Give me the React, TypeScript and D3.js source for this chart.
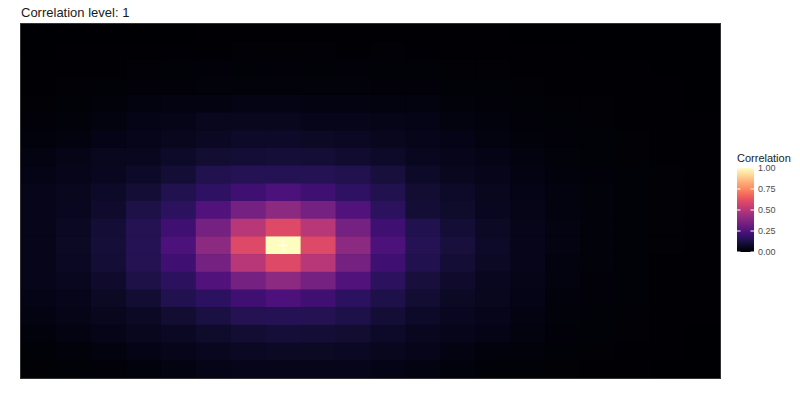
import React, { useEffect, useRef } from 'react';
import * as d3 from 'd3';

// correlation of every grid cell with the marked reference cell, rows listed top to bottom
const correlation: number[][] = [
  [0.002, 0.002, 0.003, 0.003, 0.003, 0.004, 0.004, 0.004, 0.004, 0.004, 0.004, 0.004, 0.004, 0.004, 0.003, 0.003, 0.003, 0.002, 0.002, 0.002],
  [0.003, 0.004, 0.004, 0.005, 0.006, 0.007, 0.008, 0.008, 0.008, 0.007, 0.008, 0.006, 0.005, 0.005, 0.004, 0.004, 0.003, 0.003, 0.003, 0.002],
  [0.004, 0.005, 0.006, 0.008, 0.012, 0.016, 0.014, 0.016, 0.014, 0.016, 0.014, 0.012, 0.01, 0.008, 0.006, 0.005, 0.004, 0.004, 0.003, 0.003],
  [0.006, 0.008, 0.012, 0.016, 0.016, 0.02, 0.02, 0.022, 0.02, 0.02, 0.018, 0.016, 0.014, 0.012, 0.008, 0.007, 0.006, 0.005, 0.004, 0.003],
  [0.01, 0.014, 0.02, 0.03, 0.032, 0.035, 0.036, 0.038, 0.035, 0.034, 0.03, 0.03, 0.02, 0.016, 0.012, 0.01, 0.008, 0.006, 0.004, 0.003],
  [0.018, 0.022, 0.03, 0.04, 0.045, 0.055, 0.058, 0.055, 0.05, 0.05, 0.045, 0.04, 0.03, 0.025, 0.016, 0.012, 0.01, 0.007, 0.005, 0.004],
  [0.025, 0.03, 0.04, 0.05, 0.055, 0.065, 0.075, 0.075, 0.07, 0.065, 0.058, 0.05, 0.04, 0.03, 0.022, 0.016, 0.012, 0.008, 0.006, 0.004],
  [0.035, 0.045, 0.055, 0.062, 0.075, 0.09, 0.1, 0.105, 0.1, 0.088, 0.075, 0.06, 0.05, 0.04, 0.03, 0.02, 0.015, 0.01, 0.007, 0.005],
  [0.04, 0.05, 0.06, 0.078, 0.1, 0.14, 0.15, 0.15, 0.15, 0.14, 0.11, 0.075, 0.058, 0.05, 0.035, 0.025, 0.018, 0.012, 0.008, 0.005],
  [0.05, 0.058, 0.075, 0.1, 0.14, 0.175, 0.21, 0.24, 0.21, 0.175, 0.14, 0.095, 0.075, 0.058, 0.04, 0.03, 0.02, 0.014, 0.01, 0.006],
  [0.05, 0.06, 0.085, 0.125, 0.165, 0.25, 0.34, 0.4, 0.34, 0.25, 0.165, 0.1, 0.08, 0.06, 0.045, 0.03, 0.02, 0.012, 0.008, 0.005],
  [0.05, 0.065, 0.1, 0.145, 0.21, 0.34, 0.5, 0.6, 0.5, 0.34, 0.21, 0.14, 0.1, 0.07, 0.05, 0.032, 0.02, 0.012, 0.008, 0.005],
  [0.05, 0.068, 0.105, 0.15, 0.24, 0.4, 0.6, 1.0, 0.6, 0.4, 0.24, 0.15, 0.11, 0.075, 0.05, 0.032, 0.02, 0.013, 0.008, 0.005],
  [0.05, 0.066, 0.1, 0.145, 0.21, 0.34, 0.5, 0.6, 0.5, 0.34, 0.21, 0.14, 0.1, 0.07, 0.05, 0.03, 0.02, 0.012, 0.007, 0.005],
  [0.05, 0.06, 0.085, 0.125, 0.165, 0.25, 0.34, 0.4, 0.34, 0.25, 0.165, 0.11, 0.085, 0.06, 0.045, 0.028, 0.018, 0.012, 0.007, 0.004],
  [0.042, 0.05, 0.07, 0.095, 0.14, 0.17, 0.21, 0.24, 0.21, 0.17, 0.13, 0.095, 0.07, 0.055, 0.04, 0.025, 0.016, 0.012, 0.006, 0.004],
  [0.035, 0.045, 0.055, 0.07, 0.09, 0.12, 0.145, 0.15, 0.145, 0.13, 0.1, 0.075, 0.06, 0.05, 0.035, 0.022, 0.014, 0.01, 0.006, 0.004],
  [0.025, 0.035, 0.045, 0.055, 0.065, 0.08, 0.095, 0.105, 0.1, 0.09, 0.075, 0.06, 0.05, 0.04, 0.028, 0.018, 0.012, 0.008, 0.005, 0.003],
  [0.015, 0.02, 0.03, 0.04, 0.05, 0.06, 0.065, 0.07, 0.068, 0.063, 0.055, 0.048, 0.035, 0.025, 0.02, 0.014, 0.01, 0.007, 0.004, 0.003],
  [0.01, 0.012, 0.018, 0.025, 0.035, 0.045, 0.05, 0.05, 0.05, 0.048, 0.04, 0.035, 0.025, 0.012, 0.012, 0.01, 0.007, 0.005, 0.003, 0.002],
];

const columns = d3.range(correlation[0].length);
const rows = d3.range(correlation.length);

// reference cell (column, row from top)
const refCell = { col: 7, row: 12 };

const legendTicks = [0, 0.25, 0.5, 0.75, 1];
const title = 'Correlation level: 1';

const Heatmap = () => {
  const svgRef = useRef<SVGSVGElement | null>(null);

  useEffect(() => {
    if (!svgRef.current) return;
    const svg = d3.select(svgRef.current);
    svg.selectAll('*').remove();

    const panel = { left: 21, top: 24, right: 720, bottom: 378 };

    const x = d3.scaleBand<number>().domain(columns).range([panel.left, panel.right]);
    const y = d3.scaleBand<number>().domain(rows).range([panel.top, panel.bottom]);
    const color = d3.scaleSequential(d3.interpolateMagma).domain([0, 1]);

    // title
    svg.append('text')
      .attr('x', panel.left)
      .attr('y', 17)
      .attr('font-family', 'Liberation Sans, Arial, sans-serif')
      .attr('font-size', 13)
      .attr('fill', '#1a1a1a')
      .text(title);

    svg.append('rect')
      .attr('x', panel.left)
      .attr('y', panel.top)
      .attr('width', panel.right - panel.left)
      .attr('height', panel.bottom - panel.top)
      .attr('fill', '#000004');

    const cells = rows.flatMap(r => columns.map(c => ({ r, c, v: correlation[r][c] })));

    svg.append('g')
      .selectAll('rect')
      .data(cells)
      .enter()
      .append('rect')
      .attr('x', d => x(d.c)!)
      .attr('y', d => y(d.r)!)
      .attr('width', x.bandwidth() + 0.5)
      .attr('height', y.bandwidth() + 0.5)
      .attr('fill', d => color(d.v));

    // panel border
    svg.append('rect')
      .attr('x', panel.left - 0.5)
      .attr('y', panel.top - 0.5)
      .attr('width', panel.right - panel.left + 1)
      .attr('height', panel.bottom - panel.top + 1)
      .attr('fill', 'none')
      .attr('stroke', '#333333')
      .attr('stroke-width', 1);

    // reference cross
    const cx = x(refCell.col)! + x.bandwidth() / 2;
    const cy = y(refCell.row)! + y.bandwidth() / 2;
    svg.append('path')
      .attr('d', `M${cx - 5.5},${cy}H${cx + 5.5}M${cx},${cy - 5.5}V${cy + 5.5}`)
      .attr('stroke', 'white')
      .attr('stroke-width', 1);

    // legend
    const legend = { x: 737, w: 17, top: 168, bottom: 252 };
    const ly = d3.scaleLinear().domain([0, 1]).range([legend.bottom, legend.top]);

    const grad = svg.append('defs')
      .append('linearGradient')
      .attr('id', 'magma-grad')
      .attr('x1', 0).attr('y1', 1).attr('x2', 0).attr('y2', 0);
    d3.range(0, 1.0001, 0.05).forEach(t => {
      grad.append('stop').attr('offset', t).attr('stop-color', color(t));
    });

    svg.append('text')
      .attr('x', legend.x)
      .attr('y', 162)
      .attr('font-family', 'Liberation Sans, Arial, sans-serif')
      .attr('font-size', 11)
      .attr('fill', '#1a1a1a')
      .text('Correlation');

    svg.append('rect')
      .attr('x', legend.x)
      .attr('y', legend.top)
      .attr('width', legend.w)
      .attr('height', legend.bottom - legend.top)
      .attr('fill', 'url(#magma-grad)');

    const tg = svg.append('g');
    tg.selectAll('line.l')
      .data(legendTicks)
      .enter()
      .append('line')
      .attr('x1', legend.x).attr('x2', legend.x + 3.5)
      .attr('y1', d => ly(d)).attr('y2', d => ly(d))
      .attr('stroke', 'white');
    tg.selectAll('line.r')
      .data(legendTicks)
      .enter()
      .append('line')
      .attr('x1', legend.x + legend.w - 3.5).attr('x2', legend.x + legend.w)
      .attr('y1', d => ly(d)).attr('y2', d => ly(d))
      .attr('stroke', 'white');
    tg.selectAll('text')
      .data(legendTicks)
      .enter()
      .append('text')
      .attr('x', legend.x + legend.w + 4)
      .attr('y', d => ly(d))
      .attr('dy', '0.35em')
      .attr('font-family', 'Liberation Sans, Arial, sans-serif')
      .attr('font-size', 9)
      .attr('fill', '#4d4d4d')
      .text(d => d3.format('.2f')(d));
  }, []);

  return (
    <svg
      ref={svgRef}
      width={800}
      height={400}
      style={{ position: 'absolute', left: 0, top: 0, background: 'white' }}
    />
  );
};

export default function App() {
  return <Heatmap />;
}
